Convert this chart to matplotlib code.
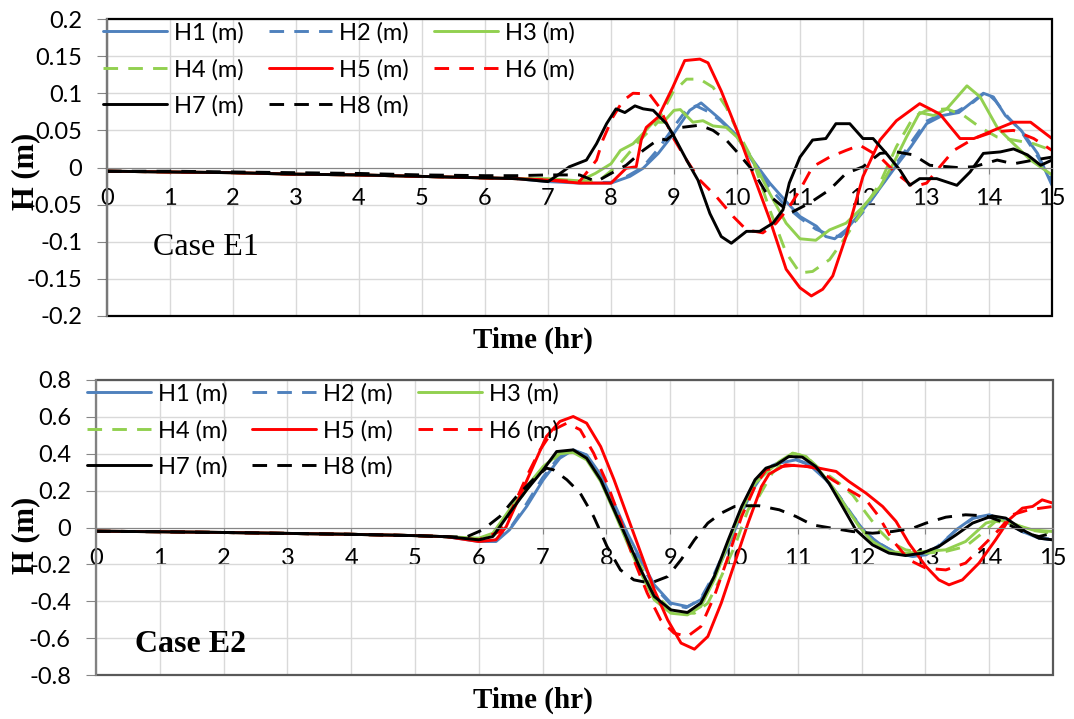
import matplotlib
matplotlib.use('Agg')
import matplotlib.pyplot as plt
import numpy as np
from matplotlib.patches import Rectangle

plt.rcParams['font.family'] = ['Lato', 'DejaVu Sans']
plt.rcParams['axes.unicode_minus'] = False

# ---- data: (time hr, H m) ----
labels = ['H1 (m)', 'H2 (m)', 'H3 (m)', 'H4 (m)', 'H5 (m)', 'H6 (m)', 'H7 (m)', 'H8 (m)']
colors = ['#4F81BD', '#4F81BD', '#92D050', '#92D050', '#FF0000', '#FF0000', '#000000', '#000000']
dashed = [False, True, False, True, False, True, False, True]

# Case E1
e1_base = [(0, -0.005), (1, -0.006), (2, -0.007), (3, -0.009), (4, -0.010), (5, -0.012), (6, -0.014), (6.5, -0.015)]
e1_h1 = [(7.0, -0.019), (7.5, -0.021), (8.0, -0.021), (8.3, -0.012), (8.51, -0.001), (8.75, 0.019), (8.99, 0.045),
         (9.25, 0.077), (9.43, 0.087), (9.72, 0.066), (10.0, 0.043), (10.25, 0.010), (10.52, -0.021), (10.76, -0.044),
         (11.0, -0.066), (11.26, -0.079), (11.41, -0.093), (11.55, -0.096), (11.73, -0.084), (12.0, -0.057),
         (12.25, -0.030), (12.5, -0.001), (12.76, 0.028), (13.01, 0.059), (13.26, 0.070), (13.52, 0.074),
         (13.76, 0.090), (13.91, 0.100), (14.07, 0.095), (14.26, 0.070), (14.51, 0.050), (14.77, 0.019), (15.0, -0.024)]
e1_h2 = [(7.0, -0.017), (7.5, -0.020), (8.0, -0.020), (8.25, -0.012), (8.5, 0.000), (8.75, 0.025), (9.0, 0.055),
         (9.2, 0.078), (9.35, 0.083), (9.55, 0.075), (9.75, 0.062), (10.0, 0.042), (10.25, 0.008), (10.5, -0.025),
         (10.75, -0.050), (11.0, -0.068), (11.25, -0.083), (11.5, -0.092), (11.65, -0.093), (11.8, -0.080),
         (12.0, -0.060), (12.25, -0.030), (12.5, 0.002), (12.75, 0.032), (13.0, 0.062), (13.25, 0.072), (13.5, 0.076),
         (13.75, 0.088), (13.95, 0.102), (14.1, 0.090), (14.3, 0.068), (14.5, 0.050), (14.75, 0.018), (15.0, -0.018)]
e1_h3 = [(7.0, -0.015), (7.5, -0.018), (7.75, -0.008), (8.0, 0.005), (8.15, 0.023), (8.35, 0.032), (8.5, 0.045),
         (8.67, 0.061), (8.83, 0.061), (9.0, 0.077), (9.1, 0.078), (9.3, 0.061), (9.46, 0.063), (9.62, 0.056),
         (9.83, 0.054), (10.0, 0.041), (10.25, 0.010), (10.52, -0.035), (10.78, -0.075), (11.0, -0.096),
         (11.25, -0.098), (11.47, -0.084), (11.73, -0.075), (12.0, -0.053), (12.27, -0.026), (12.48, 0.005),
         (12.69, 0.041), (12.9, 0.074), (13.12, 0.070), (13.33, 0.079), (13.65, 0.110), (13.86, 0.095),
         (14.13, 0.054), (14.39, 0.032), (14.66, 0.010), (15.0, -0.010)]
e1_h4 = [(7.0, -0.017), (7.5, -0.019), (7.82, -0.017), (8.14, 0.005), (8.46, 0.037), (8.72, 0.059), (8.98, 0.101),
         (9.2, 0.119), (9.41, 0.119), (9.62, 0.108), (9.83, 0.081), (10.0, 0.050), (10.25, 0.010), (10.52, -0.057),
         (10.78, -0.115), (11.0, -0.142), (11.2, -0.140), (11.47, -0.124), (11.73, -0.093), (12.0, -0.057),
         (12.27, -0.021), (12.53, 0.028), (12.8, 0.068), (13.01, 0.077), (13.33, 0.079), (13.6, 0.070),
         (13.86, 0.054), (14.13, 0.041), (14.39, 0.037), (14.71, 0.032), (15.0, 0.023)]
e1_h5 = [(7.0, -0.017), (7.5, -0.021), (8.0, -0.021), (8.24, -0.001), (8.4, 0.001), (8.48, 0.037), (8.56, 0.054),
         (8.75, 0.068), (8.98, 0.108), (9.17, 0.144), (9.41, 0.146), (9.54, 0.141), (9.75, 0.103), (10.0, 0.050),
         (10.25, -0.008), (10.52, -0.070), (10.78, -0.137), (11.0, -0.162), (11.18, -0.173), (11.36, -0.164),
         (11.52, -0.146), (11.73, -0.093), (12.0, -0.012), (12.27, 0.037), (12.53, 0.063), (12.9, 0.086),
         (13.22, 0.072), (13.54, 0.039), (13.76, 0.039), (14.07, 0.050), (14.39, 0.061), (14.66, 0.061), (15.0, 0.039)]
e1_h6 = [(7.0, -0.017), (7.5, -0.019), (7.77, 0.010), (7.87, 0.037), (8.03, 0.068), (8.19, 0.090), (8.35, 0.100),
         (8.61, 0.099), (8.77, 0.081), (8.98, 0.041), (9.2, 0.010), (9.41, -0.017), (9.67, -0.039), (9.94, -0.066),
         (10.15, -0.084), (10.41, -0.088), (10.62, -0.075), (10.83, -0.053), (11.0, -0.030), (11.2, 0.001),
         (11.47, 0.014), (11.73, 0.023), (11.95, 0.030), (12.27, 0.014), (12.53, -0.008), (12.8, -0.026),
         (13.01, -0.021), (13.22, 0.001), (13.44, 0.023), (13.76, 0.039), (14.07, 0.048), (14.39, 0.050),
         (14.71, 0.039), (15.0, 0.023)]
e1_h7 = [(7.0, -0.019), (7.16, -0.010), (7.34, 0.001), (7.61, 0.010), (7.77, 0.032), (7.93, 0.059), (8.08, 0.079),
         (8.22, 0.074), (8.38, 0.083), (8.51, 0.079), (8.67, 0.077), (8.88, 0.059), (8.98, 0.045), (9.2, 0.010),
         (9.38, -0.017), (9.57, -0.062), (9.75, -0.093), (9.91, -0.102), (10.15, -0.086), (10.36, -0.086),
         (10.57, -0.075), (10.73, -0.057), (10.83, -0.021), (11.0, 0.014), (11.2, 0.037), (11.41, 0.039),
         (11.57, 0.059), (11.79, 0.059), (12.0, 0.039), (12.16, 0.039), (12.37, 0.019), (12.59, -0.004),
         (12.74, -0.024), (12.9, -0.015), (13.17, -0.015), (13.49, -0.024), (13.7, -0.006), (13.91, 0.019),
         (14.18, 0.021), (14.39, 0.025), (14.61, 0.017), (14.82, 0.003), (15.0, 0.010)]
e1_h8 = [(0, -0.005), (1, -0.005), (2, -0.006), (3, -0.007), (4, -0.008), (5, -0.010), (6, -0.011), (6.5, -0.011),
         (7.0, -0.010), (7.5, -0.010), (7.77, -0.019), (8.0, -0.008), (8.24, 0.003), (8.51, 0.023), (8.77, 0.039),
         (8.88, 0.037), (9.12, 0.054), (9.41, 0.057), (9.62, 0.050), (9.83, 0.037), (10.0, 0.021), (10.25, -0.004),
         (10.47, -0.035), (10.73, -0.053), (10.83, -0.062), (11.15, -0.048), (11.47, -0.030), (11.73, -0.008),
         (12.0, 0.001), (12.27, 0.019), (12.53, 0.021), (12.8, 0.017), (13.06, 0.003), (13.49, 0.000),
         (13.76, 0.001), (14.13, 0.010), (14.39, 0.005), (14.71, 0.010), (15.0, 0.014)]

# Case E2
e2_base = [(0, -0.020), (1, -0.023), (2, -0.027), (3, -0.032), (4, -0.037), (5, -0.044), (5.5, -0.050)]
e2_h1 = [(6.0, -0.076), (6.27, -0.076), (6.48, -0.013), (6.75, 0.114), (7.01, 0.259), (7.27, 0.376), (7.48, 0.421),
         (7.69, 0.394), (7.91, 0.286), (8.12, 0.132), (8.33, -0.031), (8.54, -0.175), (8.75, -0.311), (9.01, -0.410),
         (9.27, -0.429), (9.48, -0.392), (9.69, -0.266), (9.91, -0.103), (10.12, 0.078), (10.29, 0.204),
         (10.5, 0.313), (10.71, 0.349), (10.97, 0.367), (11.18, 0.340), (11.44, 0.259), (11.65, 0.168),
         (11.86, 0.060), (12.07, -0.031), (12.27, -0.085), (12.54, -0.139), (12.8, -0.157), (13.01, -0.148),
         (13.21, -0.103), (13.48, -0.013), (13.74, 0.051), (14.0, 0.069), (14.26, 0.033), (14.52, -0.022),
         (14.78, -0.058), (15.0, -0.067)]
e2_h2 = [(6.0, -0.072), (6.25, -0.070), (6.5, 0.000), (6.75, 0.130), (7.0, 0.270), (7.25, 0.380), (7.47, 0.420),
         (7.7, 0.390), (7.9, 0.280), (8.1, 0.130), (8.32, -0.040), (8.53, -0.190), (8.75, -0.320), (9.0, -0.415),
         (9.25, -0.435), (9.47, -0.390), (9.68, -0.260), (9.9, -0.090), (10.1, 0.090), (10.3, 0.220), (10.5, 0.320),
         (10.72, 0.355), (10.97, 0.370), (11.2, 0.340), (11.45, 0.260), (11.65, 0.170), (11.86, 0.065),
         (12.07, -0.030), (12.27, -0.085), (12.55, -0.140), (12.8, -0.155), (13.0, -0.145), (13.2, -0.100),
         (13.48, -0.015), (13.75, 0.050), (14.0, 0.068), (14.25, 0.035), (14.5, -0.020), (14.78, -0.055), (15.0, -0.065)]
e2_h3 = [(6.0, -0.058), (6.22, -0.031), (6.48, 0.096), (6.75, 0.222), (7.01, 0.331), (7.27, 0.403), (7.48, 0.407),
         (7.69, 0.367), (7.91, 0.250), (8.12, 0.087), (8.33, -0.085), (8.54, -0.248), (8.75, -0.392), (9.01, -0.465),
         (9.27, -0.474), (9.48, -0.429), (9.69, -0.284), (9.91, -0.085), (10.12, 0.096), (10.33, 0.240),
         (10.5, 0.295), (10.71, 0.358), (10.92, 0.403), (11.13, 0.385), (11.33, 0.313), (11.54, 0.222),
         (11.75, 0.114), (11.96, 0.005), (12.17, -0.076), (12.43, -0.130), (12.69, -0.139), (13.01, -0.130),
         (13.32, -0.121), (13.63, -0.076), (13.95, 0.024), (14.15, 0.042), (14.42, 0.014), (14.68, -0.013), (15.0, -0.022)]
e2_h4 = [(6.0, -0.063), (6.25, -0.040), (6.48, 0.078), (6.75, 0.204), (7.01, 0.322), (7.27, 0.400), (7.48, 0.412),
         (7.69, 0.376), (7.91, 0.259), (8.12, 0.096), (8.33, -0.067), (8.75, -0.356), (9.06, -0.465), (9.38, -0.465),
         (9.59, -0.410), (9.8, -0.266), (10.01, -0.103), (10.22, 0.096), (10.39, 0.168), (10.6, 0.295),
         (10.92, 0.403), (11.13, 0.385), (11.33, 0.322), (11.65, 0.240), (11.86, 0.177), (12.07, 0.078),
         (12.27, -0.013), (12.48, -0.085), (12.69, -0.121), (13.01, -0.139), (13.32, -0.130), (13.63, -0.103),
         (13.89, -0.031), (14.1, 0.033), (14.36, 0.024), (14.62, -0.013), (15.0, -0.031)]
e2_h5 = [(6.0, -0.076), (6.27, -0.067), (6.43, 0.005), (6.64, 0.168), (6.85, 0.331), (7.06, 0.494), (7.27, 0.575),
         (7.48, 0.602), (7.69, 0.566), (7.91, 0.439), (8.12, 0.259), (8.33, 0.060), (8.54, -0.139), (8.75, -0.338),
         (8.96, -0.501), (9.17, -0.627), (9.38, -0.660), (9.59, -0.591), (9.8, -0.410), (10.01, -0.193),
         (10.22, 0.024), (10.43, 0.222), (10.55, 0.290), (10.81, 0.340), (11.13, 0.331), (11.33, 0.322),
         (11.6, 0.304), (11.8, 0.250), (12.07, 0.186), (12.33, 0.114), (12.54, 0.033), (12.74, -0.085),
         (13.01, -0.212), (13.21, -0.284), (13.37, -0.311), (13.58, -0.284), (13.84, -0.193), (14.1, -0.067),
         (14.31, 0.042), (14.52, 0.105), (14.68, 0.114), (14.83, 0.150), (15.0, 0.132)]
e2_h6 = [(6.0, -0.067), (6.33, -0.022), (6.54, 0.114), (6.75, 0.277), (6.96, 0.421), (7.17, 0.530), (7.38, 0.566),
         (7.59, 0.530), (7.8, 0.403), (8.01, 0.240), (8.22, 0.042), (8.43, -0.175), (8.64, -0.356), (8.85, -0.501),
         (9.06, -0.573), (9.27, -0.591), (9.48, -0.537), (9.69, -0.374), (9.91, -0.157), (10.12, 0.060),
         (10.33, 0.222), (10.5, 0.313), (10.76, 0.331), (11.02, 0.340), (11.28, 0.322), (11.54, 0.259),
         (11.8, 0.204), (12.07, 0.150), (12.27, 0.060), (12.48, -0.067), (12.74, -0.175), (13.01, -0.221),
         (13.32, -0.230), (13.63, -0.193), (13.89, -0.103), (14.15, -0.013), (14.36, 0.069), (14.62, 0.096), (15.0, 0.114)]
e2_h7 = [(6.0, -0.067), (6.22, -0.049), (6.48, 0.078), (6.75, 0.204), (7.01, 0.313), (7.22, 0.412), (7.48, 0.421),
         (7.69, 0.376), (7.91, 0.259), (8.12, 0.096), (8.33, -0.067), (8.54, -0.230), (8.75, -0.374), (9.01, -0.447),
         (9.27, -0.461), (9.48, -0.410), (9.69, -0.266), (9.91, -0.067), (10.12, 0.114), (10.33, 0.259),
         (10.5, 0.322), (10.66, 0.340), (10.86, 0.385), (11.07, 0.382), (11.28, 0.331), (11.49, 0.240),
         (11.7, 0.114), (11.91, -0.013), (12.17, -0.094), (12.43, -0.139), (12.69, -0.152), (12.95, -0.139),
         (13.21, -0.103), (13.48, -0.040), (13.74, 0.024), (14.05, 0.063), (14.26, 0.051), (14.57, -0.022),
         (14.78, -0.058), (15.0, -0.067)]
e2_h8 = [(5.8, -0.052), (6.06, -0.013), (6.33, 0.060), (6.59, 0.168), (6.85, 0.259), (7.06, 0.322), (7.17, 0.313),
         (7.38, 0.259), (7.59, 0.186), (7.8, 0.060), (8.01, -0.103), (8.22, -0.230), (8.43, -0.284), (8.69, -0.302),
         (8.96, -0.266), (9.17, -0.175), (9.38, -0.067), (9.59, 0.024), (9.8, 0.078), (10.01, 0.114), (10.22, 0.118),
         (10.39, 0.118), (10.71, 0.096), (10.97, 0.060), (11.23, 0.014), (11.54, -0.004), (11.86, -0.022),
         (12.17, -0.031), (12.48, -0.022), (12.8, -0.004), (13.01, 0.024), (13.32, 0.056), (13.63, 0.069),
         (13.95, 0.063), (14.26, 0.024), (14.57, -0.031), (14.78, -0.049), (15.0, -0.031)]

e1_series = [e1_base + e1_h1, e1_base + e1_h2, e1_base + e1_h3, e1_base + e1_h4,
             e1_base + e1_h5, e1_base + e1_h6, e1_base + e1_h7, e1_h8]
e2_series = [e2_base + e2_h1, e2_base + e2_h2, e2_base + e2_h3, e2_base + e2_h4,
             e2_base + e2_h5, e2_base + e2_h6, e2_base + e2_h7, e2_base + e2_h8]

e1_yticks = [-0.2, -0.15, -0.1, -0.05, 0, 0.05, 0.1, 0.15, 0.2]
e1_ylabels = ['-0.2', '-0.15', '-0.1', '-0.05', '0', '0.05', '0.1', '0.15', '0.2']
e2_yticks = [-0.8, -0.6, -0.4, -0.2, 0, 0.2, 0.4, 0.6, 0.8]
e2_ylabels = ['-0.8', '-0.6', '-0.4', '-0.2', '0', '0.2', '0.4', '0.6', '0.8']
xticks = list(range(16))

fig = plt.figure(figsize=(10.74, 7.19), dpi=100)
ax1 = fig.add_axes([107 / 1074, 1 - 316 / 719, 945 / 1074, 297 / 719])
ax2 = fig.add_axes([96 / 1074, 1 - 675 / 719, 957 / 1074, 295 / 719])

FS = 17


def draw_panel(ax, series, yticks, ylabels, frame_color, ypad, leg_anchor):
    for pts, lab, col, dash in zip(series, labels, colors, dashed):
        t, h = np.array(pts).T
        ax.plot(t, h, color=col, lw=2.1, ls=(0, (5, 3.5)) if dash else '-',
                label=lab, solid_capstyle='round')
    ax.set_xlim(0, 15)
    ax.set_ylim(yticks[0], yticks[-1])
    ax.set_xticks(xticks)
    ax.set_yticks(yticks)
    ax.set_yticklabels(ylabels)
    ax.grid(True, color='#D9D9D9', lw=1)
    ax.set_axisbelow(True)
    # horizontal axis crosses at zero, plot area framed
    ax.spines['bottom'].set_position(('data', 0))
    ax.spines['bottom'].set_color('#868686')
    ax.spines['left'].set_color('#868686')
    ax.spines['left'].set_linewidth(1.3)
    ax.spines['top'].set_visible(False)
    ax.spines['right'].set_visible(False)
    ax.add_patch(Rectangle((0, 0), 1, 1, transform=ax.transAxes, fill=False,
                           ec=frame_color, lw=1.6, zorder=2.4, clip_on=False))
    ax.tick_params(axis='x', direction='out', length=4, color='#868686', pad=11, labelsize=FS)
    ax.tick_params(axis='y', direction='out', length=7, color='#868686', pad=ypad, labelsize=FS)
    h, l = ax.get_legend_handles_labels()
    order = [0, 3, 6, 1, 4, 7, 2, 5]
    ax.legend([h[i] for i in order], [l[i] for i in order], ncol=3, loc='upper left',
              bbox_to_anchor=leg_anchor, frameon=False, fontsize=FS, handlelength=2.7,
              handletextpad=0.3, columnspacing=1.05, labelspacing=0.64,
              borderpad=0, borderaxespad=0)


draw_panel(ax1, e1_series, e1_yticks, e1_ylabels, 'black', 11, (-0.004, 0.99))
draw_panel(ax2, e2_series, e2_yticks, e2_ylabels, '#595959', 11, (-0.0094, 0.99))

serif = ['Liberation Serif', 'DejaVu Serif']
fig.text(0.496, 0.526, 'Time (hr)', family=serif, weight='bold', fontsize=21, ha='center', va='center')
fig.text(0.496, 0.026, 'Time (hr)', family=serif, weight='bold', fontsize=21, ha='center', va='center')
fig.text(0.024, 0.762, 'H (m)', family=serif, weight='bold', fontsize=22, rotation=90, ha='center', va='center')
fig.text(0.024, 0.256, 'H (m)', family=serif, weight='bold', fontsize=22, rotation=90, ha='center', va='center')
fig.text(153 / 1074, 1 - 255 / 719, 'Case E1', family=serif, fontsize=23, ha='left', va='baseline')
fig.text(135 / 1074, 1 - 652 / 719, 'Case E2', family=serif, weight='bold', fontsize=23, ha='left', va='baseline')

fig.savefig('out.png', dpi=100)
